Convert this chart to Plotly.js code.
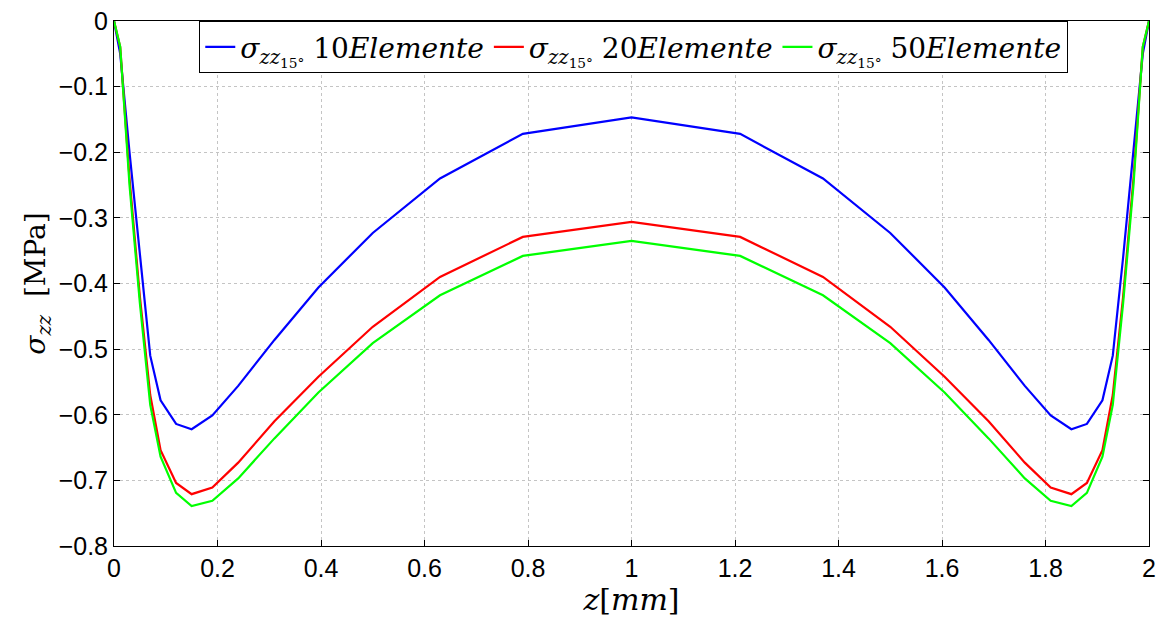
<!DOCTYPE html>
<html>
<head>
<meta charset="utf-8">
<script src="https://cdn.plot.ly/plotly-3.0.1.min.js"></script>
<style>html,body{margin:0;padding:0;background:#fff;}#chart{width:1161px;height:619px;}</style>
</head>
<body>
<div id="chart"></div>
<script>
// z positions [mm]
const zPos = [0, 0.012, 0.03, 0.05, 0.07, 0.09, 0.12, 0.15, 0.19, 0.24, 0.31, 0.395, 0.5, 0.63, 0.79, 1.0,
  1.21, 1.37, 1.5, 1.605, 1.69, 1.76, 1.81, 1.85, 1.88, 1.91, 1.93, 1.95, 1.97, 1.988, 2.0];
// sigma_zz, 10 elements
const sigma10 = [0, -0.05, -0.2, -0.36, -0.51, -0.578, -0.614, -0.622, -0.601, -0.556, -0.486, -0.406, -0.323, -0.24, -0.172, -0.147,
  -0.172, -0.24, -0.323, -0.406, -0.486, -0.556, -0.601, -0.622, -0.614, -0.578, -0.51, -0.36, -0.2, -0.05, 0];
// sigma_zz, 20 elements
const sigma20 = [0, -0.04, -0.24, -0.42, -0.57, -0.654, -0.704, -0.721, -0.711, -0.673, -0.61, -0.542, -0.466, -0.39, -0.329, -0.306,
  -0.329, -0.39, -0.466, -0.542, -0.61, -0.673, -0.711, -0.721, -0.704, -0.654, -0.57, -0.42, -0.24, -0.04, 0];
// sigma_zz, 50 elements
const sigma50 = [0, -0.039, -0.25, -0.43, -0.585, -0.664, -0.719, -0.739, -0.731, -0.697, -0.636, -0.566, -0.491, -0.418, -0.358, -0.335,
  -0.358, -0.418, -0.491, -0.566, -0.636, -0.697, -0.731, -0.739, -0.719, -0.664, -0.585, -0.43, -0.25, -0.039, 0];

const seriesNames = [
  "<i>σ</i><sub><i>zz</i><sub>15°</sub></sub> 10<i>Elemente</i>",
  "<i>σ</i><sub><i>zz</i><sub>15°</sub></sub> 20<i>Elemente</i>",
  "<i>σ</i><sub><i>zz</i><sub>15°</sub></sub> 50<i>Elemente</i>"
];
const seriesColors = ["#0000ff", "#ff0000", "#00ff00"];
const seriesData = [sigma10, sigma20, sigma50];

const xTicks = [0, 0.2, 0.4, 0.6, 0.8, 1, 1.2, 1.4, 1.6, 1.8, 2];
const yTicks = [-0.8, -0.7, -0.6, -0.5, -0.4, -0.3, -0.2, -0.1, 0];

const traces = seriesData.map((s, i) => ({
  x: zPos, y: s, type: 'scatter', mode: 'lines', name: seriesNames[i],
  line: {color: seriesColors[i], width: 2.2}
}));

const axisCommon = {
  showline: true, linecolor: '#000', linewidth: 1, mirror: 'ticks',
  ticks: 'inside', ticklen: 6, tickcolor: '#000',
  showgrid: true, gridcolor: '#c4c4c4', griddash: 'dot', gridwidth: 1,
  zeroline: false,
  tickfont: {family: 'Liberation Sans, Arial, sans-serif', size: 25, color: '#000'}
};

const layout = {
  width: 1161, height: 619,
  margin: {l: 114, r: 12, t: 21, b: 73},
  paper_bgcolor: '#fff', plot_bgcolor: '#fff',
  showlegend: true,
  legend: {
    orientation: 'h', x: 0.502, xanchor: 'center', y: 1, yanchor: 'top',
    bgcolor: '#fff', bordercolor: '#000', borderwidth: 1.2,
    font: {family: 'DejaVu Serif, Liberation Serif, serif', size: 28, color: '#000'},
    itemwidth: 30, tracegroupgap: 0
  },
  xaxis: Object.assign({}, axisCommon, {
    range: [0, 2], tickvals: xTicks, ticktext: xTicks.map(v => String(v)),
    title: {text: '<i>z</i>[<i>mm</i>]', font: {family: 'DejaVu Serif, Liberation Serif, serif', size: 30, color: '#000'}, standoff: 0}
  }),
  yaxis: Object.assign({}, axisCommon, {
    range: [-0.8, 0], tickvals: yTicks, ticktext: yTicks.map(v => v === 0 ? '0' : '\u2212' + Math.abs(v).toFixed(1)),
    title: {text: '<i>σ</i><sub><i>zz</i></sub>  [MPa]', font: {family: 'DejaVu Serif, Liberation Serif, serif', size: 28, color: '#000'}, standoff: 4}
  })
};

Plotly.newPlot('chart', traces, layout, {displayModeBar: false, staticPlot: true});
</script>
</body>
</html>
